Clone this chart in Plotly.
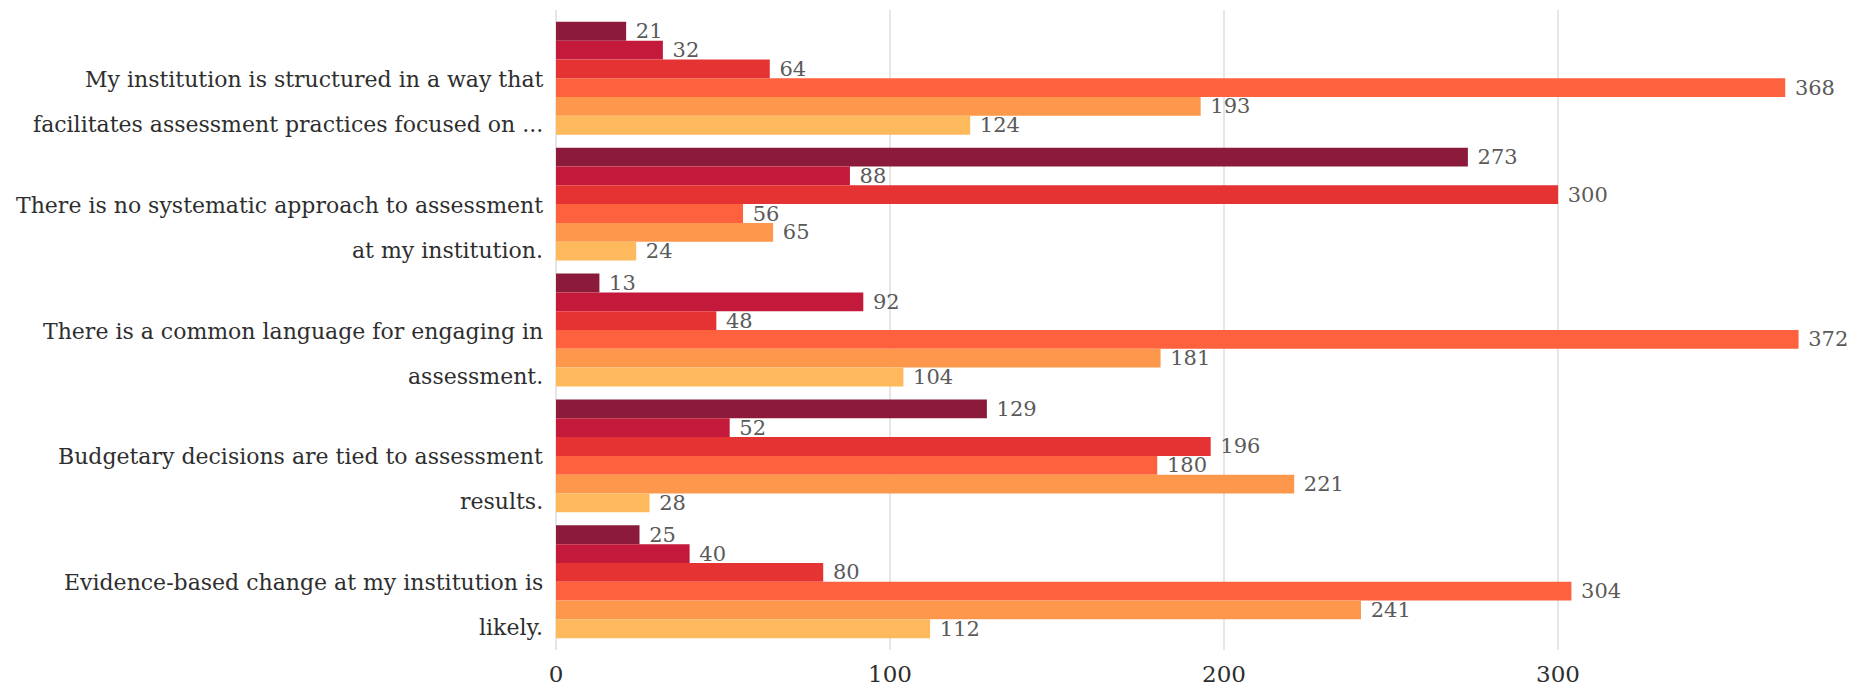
import plotly.graph_objects as go

# Survey statements, each split over two display lines
statement_lines = [
    ["My institution is structured in a way that", "facilitates assessment practices focused on ..."],
    ["There is no systematic approach to assessment", "at my institution."],
    ["There is a common language for engaging in", "assessment."],
    ["Budgetary decisions are tied to assessment", "results."],
    ["Evidence-based change at my institution is", "likely."],
]
categories = [" ".join(lines) for lines in statement_lines]

# Response counts per answer level (one series per level)
series_names = ["Level 1", "Level 2", "Level 3", "Level 4", "Level 5", "Level 6"]
level_1 = [21, 273, 13, 129, 25]
level_2 = [32, 88, 92, 52, 40]
level_3 = [64, 300, 48, 196, 80]
level_4 = [368, 56, 372, 180, 304]
level_5 = [193, 65, 181, 221, 241]
level_6 = [124, 24, 104, 28, 112]
series_values = [level_1, level_2, level_3, level_4, level_5, level_6]

x_ticks = [0, 100, 200, 300]

colors = ["#8b1a3b", "#c31a3b", "#e53233", "#fe613e", "#fd974c", "#feb95d"]

FONT = "DejaVu Serif"

fig = go.Figure()
for name, vals, color in zip(series_names, series_values, colors):
    fig.add_trace(go.Bar(
        y=list(range(len(categories))),
        x=vals,
        name=name,
        orientation="h",
        marker=dict(color=color, line=dict(width=0)),
        text=vals,
        texttemplate=" %{x}",
        textposition="outside",
        textfont=dict(family=FONT, size=21, color="#5a5a5a"),
        constraintext="none",
        cliponaxis=False,
        hovertemplate="%{x}<extra></extra>",
    ))

# Category labels drawn as two right-aligned lines beside the axis
annotations = []
for i, lines in enumerate(statement_lines):
    for j, line in enumerate(lines):
        annotations.append(dict(
            xref="paper", yref="y", x=0, y=i,
            xanchor="right", yanchor="middle",
            xshift=-11, yshift=-1 - 45 * j,
            text=line, showarrow=False,
            font=dict(family=FONT, size=22, color="#2e2e2e"),
        ))

fig.update_layout(
    width=1851, height=687,
    margin=dict(l=556, r=0, t=10, b=30),
    barmode="group",
    bargap=0.104,
    bargroupgap=0,
    showlegend=False,
    plot_bgcolor="white",
    paper_bgcolor="white",
    font=dict(family=FONT),
    annotations=annotations,
    xaxis=dict(
        range=[0, 387.7],
        tickvals=x_ticks,
        ticktext=[str(t) for t in x_ticks],
        showgrid=True, gridcolor="#e6e6e6", gridwidth=2,
        zeroline=True, zerolinecolor="#e6e6e6", zerolinewidth=2,
        showline=False, ticks="",
        ticklabelstandoff=8,
        tickfont=dict(family=FONT, size=23, color="#2e2e2e"),
    ),
    yaxis=dict(
        range=[4.542, -0.542],
        showticklabels=False,
        showgrid=False, zeroline=False, showline=False, ticks="",
    ),
)

fig.write_html("out.html")
